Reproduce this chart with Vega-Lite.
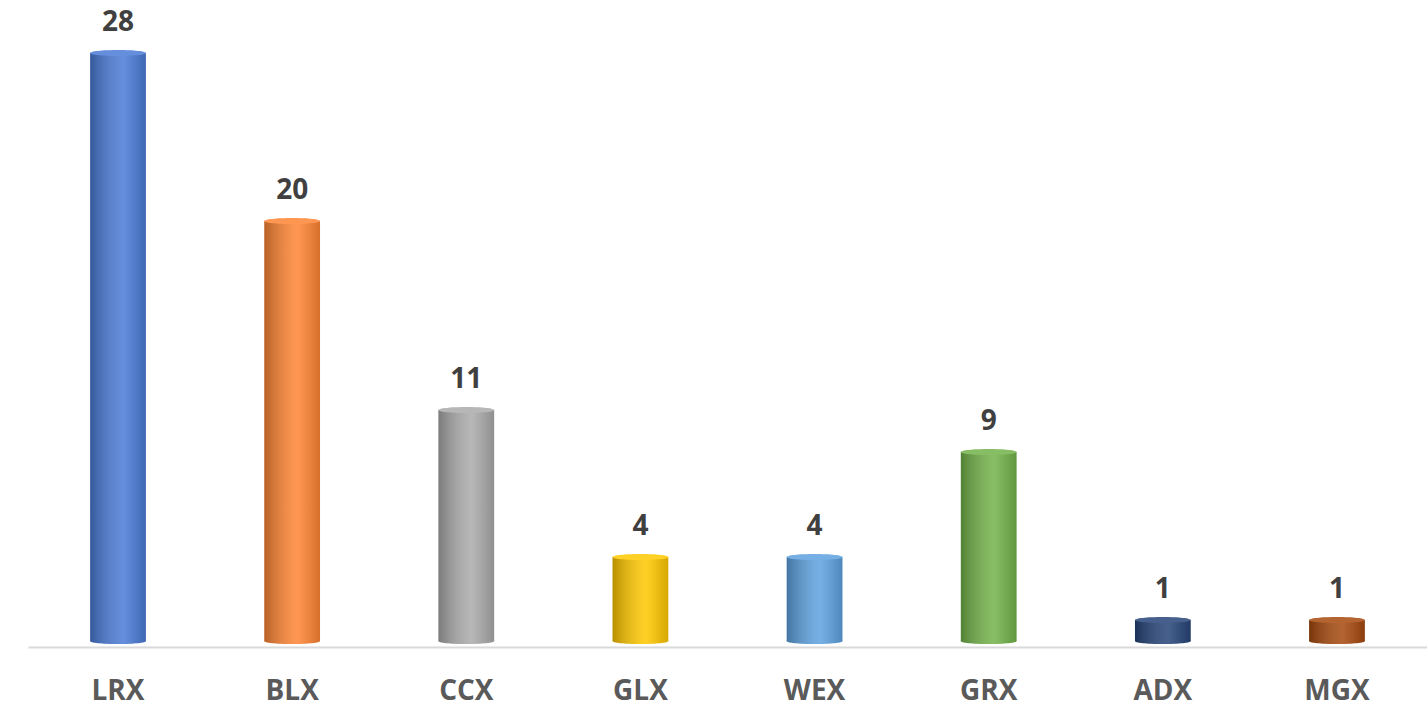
{
  "$schema": "https://vega.github.io/schema/vega-lite/v6.json",
  "width": 1399,
  "height": 588,
  "autosize": "none",
  "padding": {"left": 28, "top": 53, "right": 0, "bottom": 66},
  "background": "white",
  "config": {"view": {"stroke": null}},
  "data": {"values": [
    {"name": "LRX", "value": 28, "zero": 0},
    {"name": "BLX", "value": 20, "zero": 0},
    {"name": "CCX", "value": 11, "zero": 0},
    {"name": "GLX", "value": 4, "zero": 0},
    {"name": "WEX", "value": 4, "zero": 0},
    {"name": "GRX", "value": 9, "zero": 0},
    {"name": "ADX", "value": 1, "zero": 0},
    {"name": "MGX", "value": 1, "zero": 0}
  ]},
  "encoding": {
    "x": {
      "field": "name", "type": "nominal", "sort": null,
      "scale": {"paddingInner": 0.68, "paddingOuter": 0.357},
      "axis": {
        "title": null, "ticks": false, "domainColor": "#d9d9d9", "domainWidth": 2,
        "offset": 6, "labelAngle": 0, "labelFont": "Open Sans", "labelFontWeight": "bold",
        "labelFontSize": 28, "labelColor": "#5a5a5a", "labelPadding": 30
      }
    }
  },
  "layer": [
    {
      "mark": {"type": "point", "filled": true, "opacity": 1, "shape": "M -1 0 A 1 0.11 0 1 0 1 0 A 1 0.11 0 1 0 -1 0 Z", "size": 3136},
      "encoding": {
        "y": {"field": "zero", "type": "quantitative", "scale": {"domain": [0, 28], "nice": false}, "axis": null},
        "color": {"field": "name", "type": "nominal", "sort": null, "legend": null,
          "scale": {"domain": ["LRX","BLX","CCX","GLX","WEX","GRX","ADX","MGX"],
                    "range": ["#4A7BD6","#FF8534","#ABABAB","#FFC800","#5EA2E0","#73B34A","#264478","#A6490E"]}}
      }
    },
    {
      "mark": {"type": "point", "filled": true, "opacity": 1, "shape": "M -1 0 A 1 0.11 0 1 0 1 0 A 1 0.11 0 1 0 -1 0 Z", "size": 3136,
        "fill": {"gradient": "linear", "x1": 0, "y1": 0, "x2": 1, "y2": 0,
          "stops": [{"offset": 0, "color": "rgba(0,0,0,0.28)"}, {"offset": 0.6, "color": "rgba(255,255,255,0.15)"}, {"offset": 1, "color": "rgba(0,0,0,0.16)"}]}},
      "encoding": {"y": {"field": "zero", "type": "quantitative"}}
    },
    {
      "mark": {"type": "bar"},
      "encoding": {
        "y": {"field": "value", "type": "quantitative"},
        "color": {"field": "name", "type": "nominal", "sort": null, "legend": null}
      }
    },
    {
      "mark": {"type": "bar",
        "fill": {"gradient": "linear", "x1": 0, "y1": 0, "x2": 1, "y2": 0,
          "stops": [{"offset": 0, "color": "rgba(0,0,0,0.28)"}, {"offset": 0.6, "color": "rgba(255,255,255,0.15)"}, {"offset": 1, "color": "rgba(0,0,0,0.16)"}]}},
      "encoding": {"y": {"field": "value", "type": "quantitative"}}
    },
    {
      "mark": {"type": "point", "filled": true, "opacity": 1, "shape": "M -1 0 A 1 0.11 0 1 0 1 0 A 1 0.11 0 1 0 -1 0 Z", "size": 3136},
      "encoding": {
        "y": {"field": "value", "type": "quantitative"},
        "color": {"field": "name", "type": "nominal", "sort": null, "legend": null}
      }
    },
    {
      "mark": {"type": "point", "filled": true, "opacity": 0.15, "color": "white", "shape": "M -1 0 A 1 0.11 0 1 0 1 0 A 1 0.11 0 1 0 -1 0 Z", "size": 3136},
      "encoding": {"y": {"field": "value", "type": "quantitative"}}
    },
    {
      "mark": {"type": "text", "font": "Open Sans", "fontWeight": "bold", "fontSize": 28, "color": "#404040", "baseline": "alphabetic", "dy": -22},
      "encoding": {
        "y": {"field": "value", "type": "quantitative"},
        "text": {"field": "value", "type": "quantitative"}
      }
    }
  ]
}
